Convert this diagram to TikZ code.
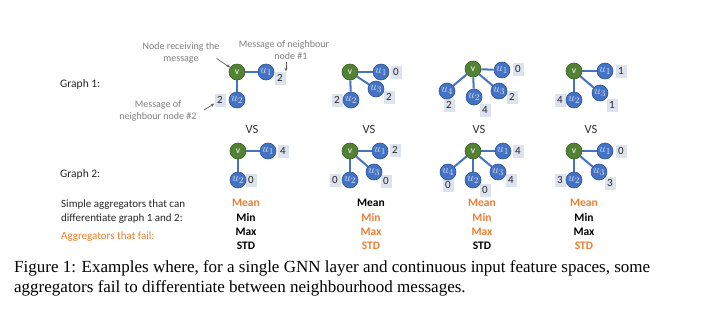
\documentclass[tikz,border=0pt]{standalone}
\usepackage{fontspec}
\setmainfont{Carlito}
\newfontfamily\capfont{Liberation Serif}
\usetikzlibrary{arrows.meta}
\definecolor{vgreen}{HTML}{548235}
\definecolor{vgreendk}{HTML}{3B5E25}
\definecolor{ublue}{HTML}{4472C4}
\definecolor{ubluedk}{HTML}{2F5597}
\definecolor{utext}{HTML}{DCE4F5}
\definecolor{boxfill}{HTML}{DCE2EE}
\definecolor{digit}{HTML}{262626}
\definecolor{anngray}{HTML}{7F7F7F}
\definecolor{annline}{HTML}{595959}
\definecolor{aggor}{HTML}{ED7D31}
\pgfdeclarelayer{bg}
\pgfsetlayers{bg,main}
\tikzset{
  vn/.style={circle, fill=vgreen, draw=vgreendk, line width=0.6pt, minimum size=16pt, inner sep=0pt, text=white, font=\fontsize{9.5}{9.5}\selectfont},
  un/.style={circle, fill=ublue, draw=ubluedk, line width=0.6pt, minimum size=16pt, inner sep=0pt, text=utext, font=\fontsize{12.5}{12.5}\selectfont},
  lb/.style={fill=boxfill, minimum width=11pt, minimum height=13pt, inner sep=0pt, font=\fontsize{11}{11}\selectfont, text=digit},
  ed/.style={draw=ublue, line width=2pt},
  ann/.style={text=anngray, font=\fontsize{10}{12}\selectfont, align=center, inner sep=0pt},
  annarr/.style={draw=annline, line width=0.7pt, -{Stealth[length=3.5pt,width=3pt]}},
  vs/.style={text=black!80, font=\fontsize{12.5}{12.5}\selectfont, inner sep=0pt},
  glab/.style={text=digit, font=\fontsize{11.5}{11.5}\selectfont, inner sep=0pt, anchor=west},
  tlab/.style={text=digit, font=\fontsize{11}{11}\selectfont, inner sep=0pt, anchor=west},
  aggok/.style={text=black, font=\bfseries\fontsize{11.5}{11.5}\selectfont, inner sep=0pt},
  aggfail/.style={text=aggor, font=\bfseries\fontsize{11.5}{11.5}\selectfont, inner sep=0pt},
}
\begin{document}
\begin{tikzpicture}[x=1pt, y=-1pt]
\useasboundingbox (0,0) rectangle (723,316);

% ---------- Graph 1 ----------
% column 1
\node[lb] (g1c1l1) at (280,78) {2};
\node[lb] (g1c1l2) at (220,100) {2};
\node[vn] (g1c1v) at (237,72) {v};
\node[un] (g1c1u1) at (266,72) {$u_{1}$};
\node[un] (g1c1u2) at (237,100) {$u_{2}$};
% column 2
\node[lb] (g1c2l1) at (396,72) {0};
\node[lb] (g1c2l3) at (389,97) {2};
\node[lb] (g1c2l2) at (337,100) {2};
\node[vn] (g1c2v) at (350,72) {v};
\node[un] (g1c2u1) at (381,72) {$u_{1}$};
\node[un] (g1c2u3) at (376,89) {$u_{3}$};
\node[un] (g1c2u2) at (351,100) {$u_{2}$};
% column 3
\node[lb] (g1c3l1) at (518,69) {0};
\node[lb] (g1c3l4) at (449,105) {2};
\node[lb] (g1c3l2) at (485,110) {4};
\node[lb] (g1c3l3) at (512,97) {2};
\node[vn] (g1c3v) at (473,69) {v};
\node[un] (g1c3u1) at (502,70) {$u_{1}$};
\node[un] (g1c3u4) at (447,91) {$u_{4}$};
\node[un] (g1c3u2) at (474,97) {$u_{2}$};
\node[un] (g1c3u3) at (499,91) {$u_{3}$};
% column 4
\node[lb] (g1c4l1) at (621,71) {1};
\node[lb] (g1c4l3) at (612,105) {1};
\node[lb] (g1c4l2) at (560,100) {4};
\node[vn] (g1c4v) at (574,71) {v};
\node[un] (g1c4u1) at (605,71) {$u_{1}$};
\node[un] (g1c4u3) at (600,93) {$u_{3}$};
\node[un] (g1c4u2) at (574,100) {$u_{2}$};

% ---------- Graph 2 ----------
% column 1
\node[lb] (g2c1l1) at (283,151) {4};
\node[lb] (g2c1l2) at (251,180) {0};
\node[vn] (g2c1v) at (238,151) {v};
\node[un] (g2c1u1) at (268,151) {$u_{1}$};
\node[un] (g2c1u2) at (238,180) {$u_{2}$};
% column 2
\node[lb] (g2c2l1) at (395,150) {2};
\node[lb] (g2c2l3) at (386,181) {0};
\node[lb] (g2c2l2) at (335,180) {0};
\node[vn] (g2c2v) at (350,151) {v};
\node[un] (g2c2u1) at (380,151) {$u_{1}$};
\node[un] (g2c2u3) at (374,172) {$u_{3}$};
\node[un] (g2c2u2) at (350,180) {$u_{2}$};
% column 3
\node[lb] (g2c3l1) at (518,151) {4};
\node[lb] (g2c3l4) at (448,185) {0};
\node[lb] (g2c3l2) at (485,190) {0};
\node[lb] (g2c3l3) at (511,180) {4};
\node[vn] (g2c3v) at (473,151) {v};
\node[un] (g2c3u1) at (503,151) {$u_{1}$};
\node[un] (g2c3u4) at (448,172) {$u_{4}$};
\node[un] (g2c3u2) at (473,180) {$u_{2}$};
\node[un] (g2c3u3) at (498,172) {$u_{3}$};
% column 4
\node[lb] (g2c4l1) at (621,151) {0};
\node[lb] (g2c4l3) at (610,183) {3};
\node[lb] (g2c4l2) at (560,180) {3};
\node[vn] (g2c4v) at (574,151) {v};
\node[un] (g2c4u1) at (605,151) {$u_{1}$};
\node[un] (g2c4u3) at (599,172) {$u_{3}$};
\node[un] (g2c4u2) at (574,180) {$u_{2}$};

% ---------- edges ----------
\begin{pgfonlayer}{bg}
\draw[ed] (g1c1v) -- (g1c1u1); \draw[ed] (g1c1v) -- (g1c1u2);
\draw[ed] (g1c2v) -- (g1c2u1); \draw[ed] (g1c2v) -- (g1c2u3); \draw[ed] (g1c2v) -- (g1c2u2);
\draw[ed] (g1c3v) -- (g1c3u1); \draw[ed] (g1c3v) -- (g1c3u4); \draw[ed] (g1c3v) -- (g1c3u2); \draw[ed] (g1c3v) -- (g1c3u3);
\draw[ed] (g1c4v) -- (g1c4u1); \draw[ed] (g1c4v) -- (g1c4u3); \draw[ed] (g1c4v) -- (g1c4u2);
\draw[ed] (g2c1v) -- (g2c1u1); \draw[ed] (g2c1v) -- (g2c1u2);
\draw[ed] (g2c2v) -- (g2c2u1); \draw[ed] (g2c2v) -- (g2c2u3); \draw[ed] (g2c2v) -- (g2c2u2);
\draw[ed] (g2c3v) -- (g2c3u1); \draw[ed] (g2c3v) -- (g2c3u4); \draw[ed] (g2c3v) -- (g2c3u2); \draw[ed] (g2c3v) -- (g2c3u3);
\draw[ed] (g2c4v) -- (g2c4u1); \draw[ed] (g2c4v) -- (g2c4u3); \draw[ed] (g2c4v) -- (g2c4u2);
\end{pgfonlayer}

% ---------- annotations ----------
\node[ann] (annv) at (181,53) {Node receiving the\\message};
\node[ann] (ann1) at (284,50) {Message of neighbour\\\hspace*{14pt}node \#1};
\node[ann] (ann2) at (158,111) {Message of\\neighbour node \#2};
\coordinate (annvs) at (216.5,58.5);
\coordinate (ann1s) at (286,61.5);
\coordinate (ann2s) at (204,110);
\draw[annarr] (annvs) -- (g1c1v);
\draw[annarr] (ann1s) -- (ann1s |- g1c1l1.north);
\draw[annarr] (ann2s) -- (g1c1l2);

% ---------- VS ----------
\node[vs] (vs1) at (252,129) {VS};
\node[vs] (vs2) at (369,129) {VS};
\node[vs] (vs3) at (479,129) {VS};
\node[vs] (vs4) at (591,129) {VS};

% ---------- row labels ----------
\node[glab] (gr1) at (60,84) {Graph 1:};
\node[glab] (gr2) at (60,174) {Graph 2:};

% ---------- table ----------
\node[tlab] (simp1) at (61,205) {Simple aggregators that can};
\node[tlab] (simp2) at (61,219) {differentiate graph 1 and 2:};
\node[tlab, text=aggor] (fail) at (61,237) {Aggregators that fail:};

\node[aggfail] (m1) at (246,203) {Mean};
\node[aggok]   (n1) at (246,217.5) {Min};
\node[aggok]   (x1) at (246,232) {Max};
\node[aggok]   (s1) at (246,246) {STD};

\node[aggok]   (m2) at (371,203) {Mean};
\node[aggfail] (n2) at (371,217.5) {Min};
\node[aggfail] (x2) at (371,232) {Max};
\node[aggfail] (s2) at (371,246) {STD};

\node[aggfail] (m3) at (482,203) {Mean};
\node[aggfail] (n3) at (482,217.5) {Min};
\node[aggfail] (x3) at (482,232) {Max};
\node[aggok]   (s3) at (482,246) {STD};

\node[aggfail] (m4) at (584,203) {Mean};
\node[aggok]   (n4) at (584,217.5) {Min};
\node[aggok]   (x4) at (584,232) {Max};
\node[aggfail] (s4) at (584,246) {STD};

% ---------- caption ----------
\node[anchor=north west, inner sep=0pt, align=left, text=black, font=\capfont\fontsize{17}{20}\selectfont] (cap) at (14,260)
  {Figure 1: Examples where, for a single GNN layer and continuous input feature spaces, some\\aggregators fail to differentiate between neighbourhood messages.};
\end{tikzpicture}
\end{document}
